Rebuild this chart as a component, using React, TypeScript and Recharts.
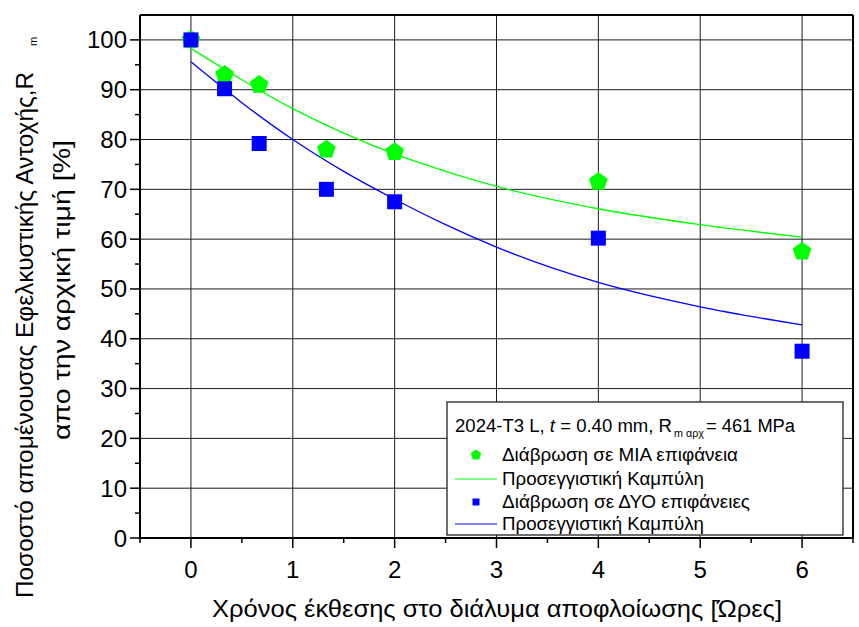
import { ComposedChart, Line, Scatter, XAxis, YAxis, CartesianGrid } from 'recharts';

// exposure time [hours] and remaining tensile strength [% of initial]
const hours = [0, 0.33, 0.67, 1.33, 2, 4, 6];
const oneSurface = [100, 93, 91, 78, 77.5, 71.5, 57.5];
const twoSurfaces = [100, 90.2, 79.2, 70, 67.5, 60.2, 37.5];

// fitted curves
const fitHours = [0, 0.5, 1, 1.5, 2, 2.5, 3, 4, 5, 6];
const fitOne = [98.3, 92.0, 86.2, 81.3, 77.1, 73.6, 70.6, 66.1, 62.9, 60.4];
const fitTwo = [95.6, 87.4, 80.0, 73.6, 68.0, 62.9, 58.4, 51.3, 46.4, 42.8];

const xTicks = [-0.5, 0, 0.5, 1, 1.5, 2, 2.5, 3, 3.5, 4, 4.5, 5, 5.5, 6, 6.5];
const xGrid = [0, 1, 2, 3, 4, 5, 6];
const yTicks = [0, 5, 10, 15, 20, 25, 30, 35, 40, 45, 50, 55, 60, 65, 70, 75, 80, 85, 90, 95, 100];
const yGrid = [10, 20, 30, 40, 50, 60, 70, 80, 90, 100];

const seriesNames = [
  'Διάβρωση σε ΜΙΑ επιφάνεια',
  'Προσεγγιστική Καμπύλη',
  'Διάβρωση σε ΔΥΟ επιφάνειες',
  'Προσεγγιστική Καμπύλη',
];

const GREEN = '#00ff00';
const BLUE = '#0000ff';
const FONT = '"Liberation Sans", Arial, sans-serif';
const W = 859;
const H = 627;

const oneData = hours.map((x, i) => ({ x, y: oneSurface[i] }));
const twoData = hours.map((x, i) => ({ x, y: twoSurfaces[i] }));
const fitOneData = fitHours.map((x, i) => ({ x, y: fitOne[i] }));
const fitTwoData = fitHours.map((x, i) => ({ x, y: fitTwo[i] }));

function pentagonPath(cx: number, cy: number, r: number) {
  const pts = [0, 1, 2, 3, 4].map((k) => {
    const a = ((-90 + 72 * k) * Math.PI) / 180;
    return `${cx + r * Math.cos(a)},${cy + r * Math.sin(a)}`;
  });
  return `M${pts.join('L')}Z`;
}

const Pentagon = (props: any) => <path d={pentagonPath(props.cx, props.cy, 9.8)} fill={GREEN} />;
const Square = (props: any) => (
  <rect x={props.cx - 7.5} y={props.cy - 7.5} width={15} height={15} fill={BLUE} />
);

const isMajorX = (v: number) => Number.isInteger(v) && v >= 0 && v <= 6;

const BottomTick = ({ x, y, payload }: any) => {
  const major = isMajorX(payload.value);
  return (
    <g>
      <line x1={x} x2={x} y1={y} y2={y + (major ? 10 : 5)} stroke="#000" strokeWidth={1.5} />
      {major && (
        <text x={x} y={y + 40} textAnchor="middle" fontSize={24} fontFamily={FONT} fill="#000">
          {payload.value}
        </text>
      )}
    </g>
  );
};

const TopTick = ({ x, y, payload }: any) => {
  const major = isMajorX(payload.value);
  return <line x1={x} x2={x} y1={y} y2={y - (major ? 10 : 5)} stroke="#000" strokeWidth={1.5} />;
};

const LeftTick = ({ x, y, payload }: any) => {
  const major = payload.value % 10 === 0;
  return (
    <g>
      <line x1={x} x2={x - (major ? 10 : 5)} y1={y} y2={y} stroke="#000" strokeWidth={1.5} />
      {major && (
        <text x={x - 13} y={y + 8.5} textAnchor="end" fontSize={24} fontFamily={FONT} fill="#000">
          {payload.value}
        </text>
      )}
    </g>
  );
};

const RightTick = ({ x, y }: any) => (
  <line x1={x} x2={x + 6} y1={y} y2={y} stroke="#000" strokeWidth={1.5} />
);

const axisLine = { stroke: '#000', strokeWidth: 2 };

export default function App() {
  return (
    <div style={{ position: 'absolute', left: 0, top: 0, width: W, height: H, background: '#fff' }}>
      <ComposedChart width={W} height={H} margin={{ top: 0, right: 0, bottom: 0, left: 0 }}>
        <CartesianGrid
          stroke="#1a1a1a"
          strokeWidth={1}
          verticalValues={xGrid}
          horizontalValues={yGrid}
        />
        <XAxis
          dataKey="x"
          type="number"
          domain={[-0.5, 6.5]}
          ticks={xTicks}
          interval={0}
          height={89}
          tickSize={0}
          tickMargin={0}
          tickLine={false}
          axisLine={axisLine}
          tick={<BottomTick />}
        />
        <XAxis
          xAxisId="top"
          orientation="top"
          dataKey="x"
          type="number"
          domain={[-0.5, 6.5]}
          ticks={xTicks}
          interval={0}
          height={15}
          tickSize={0}
          tickMargin={0}
          tickLine={false}
          axisLine={axisLine}
          tick={<TopTick />}
        />
        <YAxis
          type="number"
          domain={[0, 105]}
          ticks={yTicks}
          interval={0}
          width={140}
          tickSize={0}
          tickMargin={0}
          tickLine={false}
          axisLine={axisLine}
          tick={<LeftTick />}
        />
        <YAxis
          yAxisId="right"
          orientation="right"
          type="number"
          domain={[0, 105]}
          ticks={yTicks}
          interval={0}
          width={6}
          tickSize={0}
          tickMargin={0}
          tickLine={false}
          axisLine={axisLine}
          tick={<RightTick />}
        />
        <Line
          data={fitOneData}
          dataKey="y"
          type="monotone"
          stroke={GREEN}
          strokeWidth={1.3}
          dot={false}
          activeDot={false}
          isAnimationActive={false}
        />
        <Line
          data={fitTwoData}
          dataKey="y"
          type="monotone"
          stroke={BLUE}
          strokeWidth={1.3}
          dot={false}
          activeDot={false}
          isAnimationActive={false}
        />
        <Scatter data={oneData} dataKey="y" shape={Pentagon} isAnimationActive={false} />
        <Scatter data={twoData} dataKey="y" shape={Square} isAnimationActive={false} />
      </ComposedChart>

      <svg
        width={W}
        height={H}
        style={{ position: 'absolute', left: 0, top: 0, pointerEvents: 'none' }}
        fontFamily={FONT}
      >
        {/* axis titles */}
        <text
          transform="rotate(-90 33 598)"
          x={33}
          y={598}
          fontSize={24}
          textLength={526}
          lengthAdjust="spacingAndGlyphs"
        >
          Ποσοστό απομένουσας Εφελκυστικής Αντοχής,R
        </text>
        <text transform="rotate(-90 37 46)" x={37} y={46} fontSize={11}>
          m
        </text>
        <text
          transform="rotate(-90 70 440)"
          x={70}
          y={440}
          fontSize={24}
          textLength={300}
          lengthAdjust="spacingAndGlyphs"
        >
          απο την αρχική τιμή [%]
        </text>
        <text x={212} y={617} fontSize={24} textLength={570} lengthAdjust="spacingAndGlyphs">
          Χρόνος έκθεσης στο διάλυμα αποφλοίωσης [Ώρες]
        </text>

        {/* legend */}
        <rect x={447} y={402} width={396} height={133} fill="#fff" stroke="#222" strokeWidth={1.3} />
        <text x={455} y={432} fontSize={18} textLength={217} lengthAdjust="spacingAndGlyphs">
          2024-T3 L, <tspan fontStyle="italic">t</tspan> = 0.40 mm, R
        </text>
        <text x={674} y={437} fontSize={10.5} textLength={30} lengthAdjust="spacingAndGlyphs">
          m αρχ
        </text>
        <text x={706} y={432} fontSize={18} textLength={89} lengthAdjust="spacingAndGlyphs">
          = 461 MPa
        </text>
        <path d={pentagonPath(476, 455, 5.5)} fill={GREEN} />
        <text x={502} y={461} fontSize={18} textLength={236} lengthAdjust="spacingAndGlyphs">
          {seriesNames[0]}
        </text>
        <line x1={455} x2={497} y1={479} y2={479} stroke="#80ff80" strokeWidth={2} />
        <text x={502} y={485} fontSize={18} textLength={202} lengthAdjust="spacingAndGlyphs">
          {seriesNames[1]}
        </text>
        <rect x={472.5} y={498.5} width={7} height={7} fill={BLUE} />
        <text x={502} y={508} fontSize={18} textLength={248} lengthAdjust="spacingAndGlyphs">
          {seriesNames[2]}
        </text>
        <line x1={455} x2={497} y1={524} y2={524} stroke="#8080ff" strokeWidth={2} />
        <text x={502} y={530} fontSize={18} textLength={202} lengthAdjust="spacingAndGlyphs">
          {seriesNames[3]}
        </text>
      </svg>
    </div>
  );
}
